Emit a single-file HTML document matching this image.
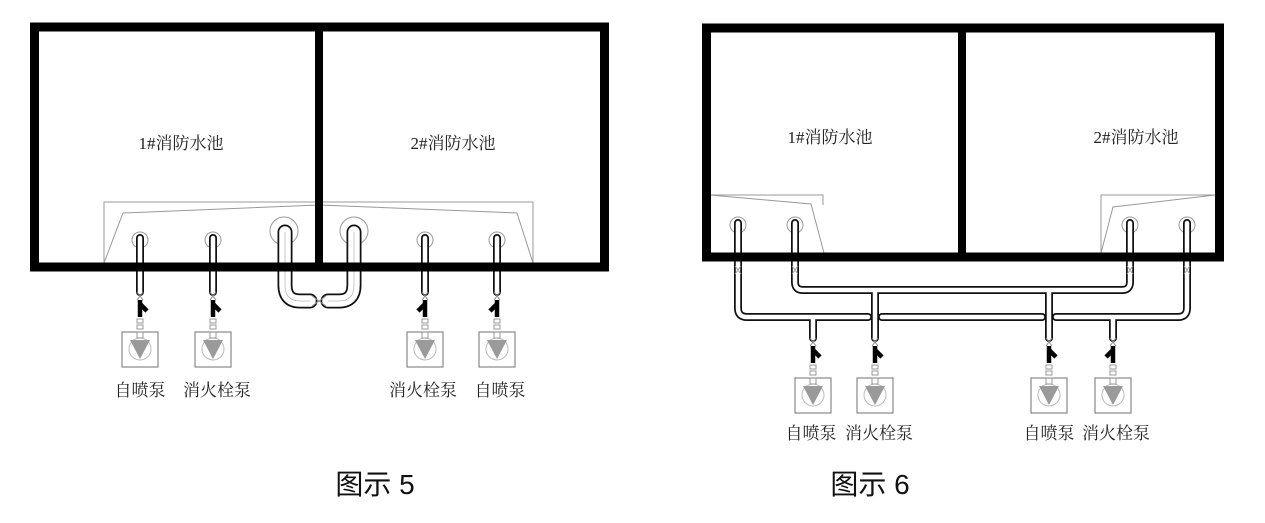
<!DOCTYPE html>
<html><head><meta charset="utf-8"><style>
html,body{margin:0;padding:0;background:#fff;}
svg{display:block;}
text{font-family:"Liberation Serif","Noto Serif CJK SC",serif;}
.cap{font-family:"Liberation Sans","Noto Sans CJK SC",sans-serif;font-size:28px;fill:#111;}
.lbl{font-size:17px;fill:#222;}
.p1{fill:none;stroke:#111;stroke-width:8;stroke-linejoin:round;stroke-linecap:round;}
.p2{fill:none;stroke:#fff;stroke-width:4.5;stroke-linejoin:round;stroke-linecap:round;}
.b1{fill:none;stroke:#111;stroke-width:15;stroke-linejoin:round;stroke-linecap:round;}
.b2{fill:none;stroke:#fff;stroke-width:11.5;stroke-linejoin:round;stroke-linecap:round;}
.b3{fill:none;stroke:#bbb;stroke-width:0.8;}
.thin{fill:none;stroke:#999;stroke-width:1;}
.wall{fill:none;stroke:#000;stroke-width:9;}
</style></head><body>
<svg width="1265" height="523" viewBox="0 0 1265 523">
<defs>
<g id="pumpL">
  <path d="M-3,2 L3,10 M3,2 L-3,10" stroke="#888" stroke-width="1"/>
  <line x1="0" y1="10" x2="0" y2="27" stroke="#000" stroke-width="4.5"/>
  <line x1="0" y1="14" x2="7" y2="21" stroke="#000" stroke-width="4.5"/>
  <rect x="-3" y="29" width="6" height="4" fill="none" stroke="#999" stroke-width="1"/>
  <rect x="-3" y="35" width="6" height="4" fill="none" stroke="#999" stroke-width="1"/>
  <rect x="-18" y="42" width="36" height="35" fill="none" stroke="#888" stroke-width="1.2"/>
  <circle cx="0" cy="59" r="11" fill="none" stroke="#bbb" stroke-width="1"/>
  <path d="M-10,50 L10,50 L0,69 Z" fill="#9a9a9a"/>
  <rect x="-3" y="42" width="6" height="6" fill="none" stroke="#999" stroke-width="1"/>
</g>
<g id="pumpR"><use href="#pumpL" transform="scale(-1,1)"/></g>
</defs>

<path class="thin" d="M104,263 L104,202 L533,202 L533,263"/>
<path class="thin" d="M104,263 L123,213 L319,205 L517,213 L533,263"/>
<g class="thin" stroke="#ccc">
<circle cx="140" cy="240" r="8"/><circle cx="213" cy="240" r="8"/>
<circle cx="425" cy="240" r="8"/><circle cx="497" cy="240" r="8"/>
<circle cx="284" cy="231" r="14"/><circle cx="354" cy="231" r="14"/>
</g>
<g>
<path class="p1" d="M140,238 V292 M213,238 V292 M425,238 V292 M497,238 V292"/>
<path class="p2" d="M140,238 V292 M213,238 V292 M425,238 V292 M497,238 V292"/>
</g>
<path class="b1" d="M285,232 V285 Q285,301 300,301 H310"/>
<path class="b2" d="M285,232 V285 Q285,301 300,301 H310"/>
<path class="b3" d="M285,232 V285 Q285,301 300,301 H310"/>
<path class="b1" d="M354,232 V285 Q354,301 339,301 H328"/>
<path class="b2" d="M354,232 V285 Q354,301 339,301 H328"/>
<path class="b3" d="M354,232 V285 Q354,301 339,301 H328"/>
<path d="M312,296 L326,306 M326,296 L312,306" stroke="#999" stroke-width="1"/>
<rect class="wall" x="34.5" y="27" width="570" height="240"/>
<line x1="319" y1="27" x2="319" y2="267" stroke="#000" stroke-width="8"/>
<text class="lbl" x="181" y="149" text-anchor="middle">1#消防水池</text>
<text class="lbl" x="453" y="149" text-anchor="middle">2#消防水池</text>
<use href="#pumpL" x="140" y="290"/>
<use href="#pumpL" x="213" y="290"/>
<use href="#pumpR" x="425" y="290"/>
<use href="#pumpR" x="497" y="290"/>
<text class="lbl" x="140" y="396" text-anchor="middle">自喷泵</text>
<text class="lbl" x="217" y="396" text-anchor="middle">消火栓泵</text>
<text class="lbl" x="423" y="396" text-anchor="middle">消火栓泵</text>
<text class="lbl" x="500" y="396" text-anchor="middle">自喷泵</text>
<text class="cap" x="375" y="494" text-anchor="middle">图示 5</text>

<path class="thin" d="M710,195 H823 V205 M710,195 L811,204 L824,253"/>
<path class="thin" d="M1215,195 H1101 V253 M1101,253 L1113,207 L1215,195"/>
<g class="thin" stroke="#ccc">
<circle cx="738" cy="225" r="8"/><circle cx="795" cy="225" r="8"/>
<circle cx="1130" cy="225" r="8"/><circle cx="1187" cy="225" r="8"/>
</g>
<g>
<path class="p1" d="M738,223 V308 Q738,317 747,317 H868 M882,317 H1042 M1056,317 H1178 Q1187,317 1187,308 V223"/>
<path class="p1" d="M795,223 V282 Q795,290 803,290 H1122 Q1130,290 1130,282 V223"/>
<path class="p1" d="M875,290 V338 M1049,290 V338 M813,317 V338 M1113,317 V338"/>
<path class="p2" d="M738,223 V308 Q738,317 747,317 H868 M882,317 H1042 M1056,317 H1178 Q1187,317 1187,308 V223"/>
<path class="p2" d="M795,223 V282 Q795,290 803,290 H1122 Q1130,290 1130,282 V223"/>
<path class="p2" d="M875,292 V338 M1049,292 V338 M813,319 V338 M1113,319 V338"/>
</g>
<g stroke="#999" stroke-width="1">
<path d="M735,266 L741,274 M741,266 L735,274 M792,266 L798,274 M798,266 L792,274 M1127,266 L1133,274 M1133,266 L1127,274 M1184,266 L1190,274 M1190,266 L1184,274"/>
</g>
<rect class="wall" x="706.5" y="28" width="513" height="229"/>
<line x1="962" y1="28" x2="962" y2="257" stroke="#000" stroke-width="8"/>
<text class="lbl" x="830" y="143" text-anchor="middle">1#消防水池</text>
<text class="lbl" x="1136" y="143" text-anchor="middle">2#消防水池</text>
<use href="#pumpL" x="813" y="336"/>
<use href="#pumpL" x="875" y="336"/>
<use href="#pumpL" x="1049" y="336"/>
<use href="#pumpR" x="1113" y="336"/>
<text class="lbl" x="811" y="439" text-anchor="middle">自喷泵</text>
<text class="lbl" x="879" y="439" text-anchor="middle">消火栓泵</text>
<text class="lbl" x="1049" y="439" text-anchor="middle">自喷泵</text>
<text class="lbl" x="1116" y="439" text-anchor="middle">消火栓泵</text>
<text class="cap" x="870" y="494" text-anchor="middle">图示 6</text>
</svg>
</body></html>
